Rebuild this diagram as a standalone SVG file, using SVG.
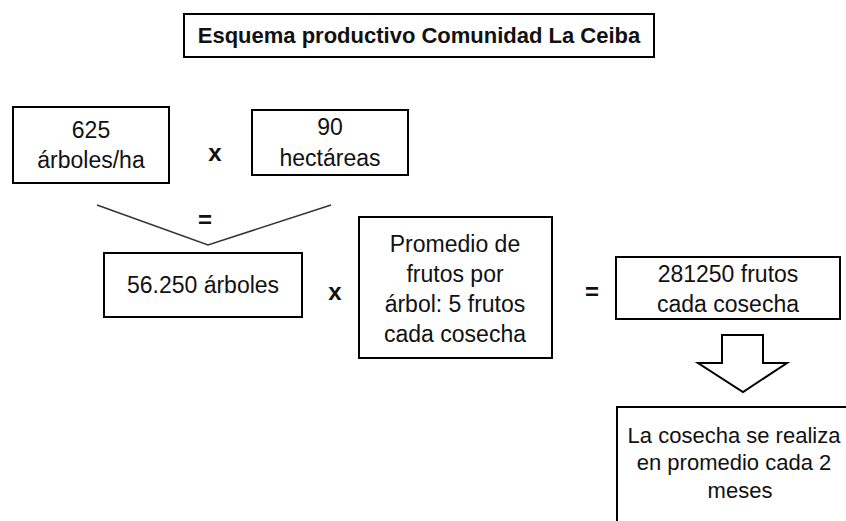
<svg xmlns="http://www.w3.org/2000/svg" width="846" height="521" viewBox="0 0 846 521">
<style>
.box{fill:#fff;stroke:#000;stroke-width:2}
.t{font-family:"Liberation Sans",Arial,sans-serif;font-size:23px;fill:#111;text-anchor:middle}
.s{font-size:22px}
.op{font-family:"Liberation Sans",Arial,sans-serif;font-size:24px;font-weight:bold;fill:#111;text-anchor:middle}
.title{font-family:"Liberation Sans",Arial,sans-serif;font-size:22px;font-weight:bold;fill:#111;text-anchor:middle}
.ln{fill:none;stroke:#333;stroke-width:1.5}
</style>
<rect width="846" height="521" fill="#fff"/>
<g id="title">
<rect class="box" x="184" y="14" width="470" height="43"/>
<text class="title" x="419" y="43">Esquema productivo Comunidad La Ceiba</text>
</g>
<g id="n625">
<rect class="box" x="13" y="107" width="156" height="76"/>
<text class="t" x="91" y="138">625</text>
<text class="t" x="91" y="168">árboles/ha</text>
</g>
<g id="n90">
<rect class="box" x="252" y="110" width="156" height="65"/>
<text class="t" x="330" y="135">90</text>
<text class="t" x="330" y="166">hectáreas</text>
</g>
<g id="n56250">
<rect class="box" x="104" y="253" width="198" height="64"/>
<text class="t" x="203" y="293">56.250 árboles</text>
</g>
<g id="promedio">
<rect class="box" x="359" y="217" width="193" height="141"/>
<text class="t" x="455" y="252">Promedio de</text>
<text class="t" x="455" y="282">frutos por</text>
<text class="t" x="455" y="312">árbol:  5 frutos</text>
<text class="t" x="455" y="342">cada cosecha</text>
</g>
<g id="n281250">
<rect class="box" x="616" y="257" width="224" height="62"/>
<text class="t" x="728" y="282">281250 frutos</text>
<text class="t" x="728" y="312">cada cosecha</text>
</g>
<g id="cosecha">
<rect class="box" x="617" y="407" width="250" height="130"/>
<text class="t s" x="734" y="443">La cosecha se realiza</text>
<text class="t s" x="734" y="470">en promedio cada 2</text>
<text class="t s" x="740" y="498">meses</text>
</g>
<g id="connectors">
<polyline class="ln" points="97,205 208,245 331,205"/>
<polygon points="722,335 763,335 763,363 787,363 743,392 698,363 722,363" fill="#fff" stroke="#000" stroke-width="2"/>
<text class="op" x="215" y="161">x</text>
<text class="op" x="205" y="228">=</text>
<text class="op" x="335" y="300">x</text>
<text class="op" x="592" y="300">=</text>
</g>
</svg>
